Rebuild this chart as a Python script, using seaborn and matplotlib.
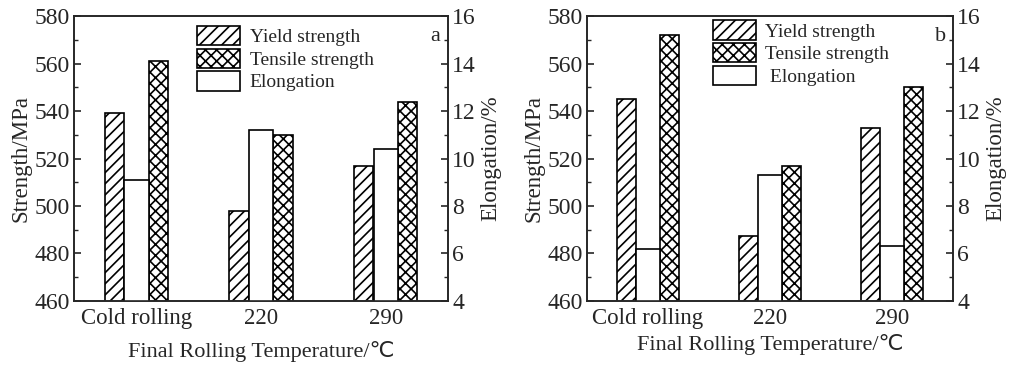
import numpy as np
import pandas as pd
import seaborn as sns
import matplotlib.pyplot as plt

sns.set_style("ticks")
plt.rcParams['font.family'] = ['Liberation Serif', 'DejaVu Sans']
plt.rcParams['hatch.linewidth'] = 1.2
plt.rcParams['axes.linewidth'] = 1.2

# Data
categories = ['Cold rolling', '220', '290']
yield_a = [539, 498, 517]
tensile_a = [561, 530, 544]
elong_a = [9.1, 11.2, 10.4]
yield_b = [545, 487.5, 533]
tensile_b = [572, 517, 550]
elong_b = [6.2, 9.3, 6.3]

pos = np.arange(len(categories))


def draw_panel(ax, ys, ts, el, tag, leg_xy, elong_label, xlabelpad):
    ax2 = ax.twinx()
    d_y = pd.DataFrame({'x': pos - 0.176, 'v': ys})
    d_t = pd.DataFrame({'x': pos + 0.176, 'v': ts})
    d_e = pd.DataFrame({'x': pos.astype(float), 'v': el})
    sns.barplot(data=d_y, x='x', y='v', native_scale=True, width=0.155, errorbar=None,
                color='white', edgecolor='black', hatch='///', linewidth=1.2,
                label='Yield strength', ax=ax)
    sns.barplot(data=d_t, x='x', y='v', native_scale=True, width=0.155, errorbar=None,
                color='white', edgecolor='black', hatch='xxx', linewidth=1.2,
                label='Tensile strength', ax=ax)
    sns.barplot(data=d_e, x='x', y='v', native_scale=True, width=0.195, errorbar=None,
                color='white', edgecolor='black', linewidth=1.2,
                label=elong_label, ax=ax2)
    for a in (ax, ax2):
        if a.get_legend() is not None:
            a.get_legend().remove()

    ax.set_ylim(460, 580)
    ax.set_yticks(np.arange(460, 581, 20))
    ax.set_yticks(np.arange(470, 580, 20), minor=True)
    ax2.set_ylim(4, 16)
    ax2.set_yticks(np.arange(4, 17, 2))
    ax2.set_yticks(np.arange(5, 16, 2), minor=True)
    for a in (ax, ax2):
        a.set_xlim(-0.5, 2.5)
        a.set_xticks(pos)
        a.set_xticklabels(categories)
        a.tick_params(axis='y', which='major', direction='in', length=5, width=1.2,
                      labelsize=17, pad=3)
        a.tick_params(axis='y', which='minor', direction='in', length=3, width=1.0)
        a.tick_params(axis='x', length=0, labelsize=16.5, pad=5)
    ax.set_ylabel('Strength/MPa', fontsize=16.5, labelpad=2)
    ax2.set_ylabel('Elongation/%', fontsize=16.5, labelpad=3)
    ax.set_xlabel('Final Rolling Temperature/\u2103', fontsize=16, labelpad=xlabelpad)
    for a in (ax, ax2):
        for s in a.spines.values():
            s.set_visible(True)
            s.set_linewidth(1.2)

    h1, l1 = ax.get_legend_handles_labels()
    h2, l2 = ax2.get_legend_handles_labels()
    ax2.legend(h1 + h2, l1 + l2, loc='upper left', bbox_to_anchor=leg_xy,
               frameon=False, fontsize=14, handlelength=2.2, handleheight=1.15,
               labelspacing=0.12, handletextpad=0.5, borderaxespad=0, borderpad=0)
    ax2.text(0.965, 0.93, tag, transform=ax2.transAxes, fontsize=16,
             ha='center', va='center')


fig = plt.figure(figsize=(10.1, 3.67), dpi=100)
ax_a = fig.add_axes([0.0733, 0.180, 0.3703, 0.776])
ax_b = fig.add_axes([0.5812, 0.180, 0.3624, 0.776])

draw_panel(ax_a, yield_a, tensile_a, elong_a, 'a', (0.329, 0.965), 'Elongation', 9)
draw_panel(ax_b, yield_b, tensile_b, elong_b, 'b', (0.344, 0.985), ' Elongation', 4)

fig.savefig('out.png', dpi=100)
